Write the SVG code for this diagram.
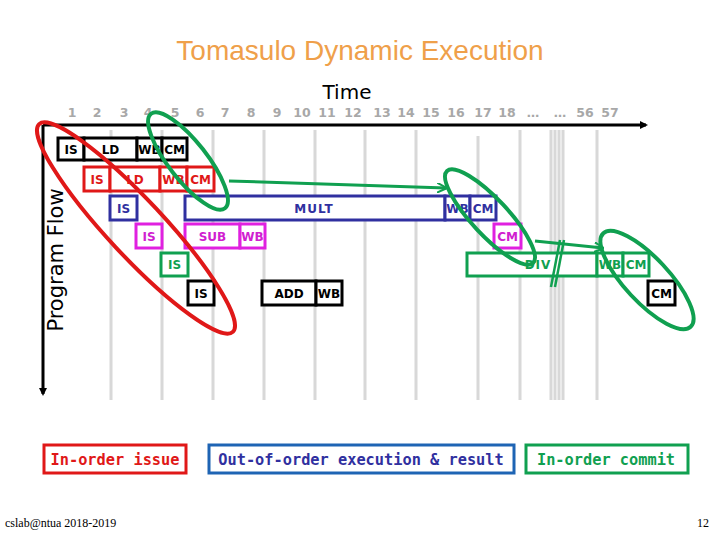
<svg xmlns="http://www.w3.org/2000/svg" width="720" height="540" viewBox="0 0 720 540">
<style>
.title{font-family:"Liberation Sans",Arial,sans-serif;font-size:28px;fill:#EFA04A}
.num{font-family:"DejaVu Sans",sans-serif;font-weight:bold;font-size:12.5px;fill:#A8A8A8;text-anchor:middle}
.axis{stroke:#000;stroke-width:3;fill:none}
.grid{stroke:#D8D8D8;stroke-width:3}
.cell{fill:#fff;stroke-width:3}
.t{font-family:"DejaVu Sans",sans-serif;font-weight:bold;font-size:12px;text-anchor:middle}
.k{stroke:#000}.kt{fill:#000}
.r{stroke:#E01818}.rt{fill:#E01818}
.b{stroke:#3030A0}.bt{fill:#3030A0}
.m{stroke:#E020E0}.mt{fill:#D020D0}
.g{stroke:#10A050}.gt{fill:#10A050}
.ell{fill:none;stroke-width:4}
.lbl{font-family:"DejaVu Sans Mono",monospace;font-weight:bold;font-size:15.3px;text-anchor:middle}
.foot{font-family:"Liberation Serif",serif;font-size:12px;fill:#000}
</style>
<defs>
<marker id="ahk" markerWidth="8" markerHeight="8" refX="6" refY="4" orient="auto" markerUnits="userSpaceOnUse"><path d="M0,0 L8,4 L0,8 z" fill="#000"/></marker>
<marker id="ahg" markerWidth="10" markerHeight="10" refX="9" refY="5" orient="auto" markerUnits="userSpaceOnUse"><path d="M0,0 L10,5 L0,10" fill="none" stroke="#10A050" stroke-width="2"/></marker>
</defs>
<rect width="720" height="540" fill="#fff"/>
<text class="title" x="360" y="60" text-anchor="middle">Tomasulo Dynamic Execution</text>
<text x="347" y="99" text-anchor="middle" font-family="DejaVu Sans,sans-serif" font-size="20" fill="#000">Time</text>
<g id="numbers">
<text class="num" x="72" y="117">1</text><text class="num" x="97" y="117">2</text><text class="num" x="124" y="117">3</text><text class="num" x="148" y="117">4</text><text class="num" x="175" y="117">5</text><text class="num" x="200" y="117">6</text><text class="num" x="225" y="117">7</text><text class="num" x="251" y="117">8</text><text class="num" x="277" y="117">9</text><text class="num" x="302" y="117">10</text><text class="num" x="327" y="117">11</text><text class="num" x="353" y="117">12</text><text class="num" x="382" y="117">13</text><text class="num" x="406" y="117">14</text><text class="num" x="431" y="117">15</text><text class="num" x="456" y="117">16</text><text class="num" x="483" y="117">17</text><text class="num" x="507" y="117">18</text><text class="num" x="533" y="117">…</text><text class="num" x="560" y="117">…</text><text class="num" x="585" y="117">56</text><text class="num" x="610" y="117">57</text>
</g>
<g id="grid">
<line class="grid" x1="111" y1="130" x2="111" y2="400"/>
<line class="grid" x1="162" y1="130" x2="162" y2="400"/>
<line class="grid" x1="213" y1="130" x2="213" y2="400"/>
<line class="grid" x1="264" y1="130" x2="264" y2="400"/>
<line class="grid" x1="315" y1="130" x2="315" y2="400"/>
<line class="grid" x1="365" y1="130" x2="365" y2="400"/>
<line class="grid" x1="416" y1="130" x2="416" y2="400"/>
<line class="grid" x1="478" y1="136" x2="478" y2="400"/>
<line class="grid" x1="520" y1="130" x2="520" y2="400"/>
<line class="grid" x1="551" y1="130" x2="551" y2="400"/>
<line class="grid" x1="555" y1="130" x2="555" y2="400"/>
<line class="grid" x1="559" y1="130" x2="559" y2="400"/>
<line class="grid" x1="563" y1="130" x2="563" y2="400"/>
<line class="grid" x1="597" y1="130" x2="597" y2="400"/>
</g>
<g id="axes">
<line class="axis" x1="43" y1="125" x2="646" y2="125" marker-end="url(#ahk)"/>
<line class="axis" x1="43" y1="125" x2="43" y2="394" marker-end="url(#ahk)"/>
<text transform="translate(63,260) rotate(-90)" text-anchor="middle" font-family="DejaVu Sans,sans-serif" font-size="21" fill="#000">Program Flow</text>
</g>
<g id="row1">
<rect class="cell k" x="58" y="138" width="26" height="22"/><text class="t kt" x="71" y="153.5">IS</text>
<rect class="cell k" x="84" y="138" width="53" height="22"/><text class="t kt" x="110.5" y="153.5">LD</text>
<rect class="cell k" x="137" y="138" width="25" height="22"/><text class="t kt" x="149.5" y="153.5">WB</text>
<rect class="cell k" x="162" y="138" width="25" height="22"/><text class="t kt" x="174.5" y="153.5">CM</text>
</g>
<g id="row2">
<rect class="cell r" x="84" y="167" width="26" height="24"/><text class="t rt" x="97" y="183.5">IS</text>
<rect class="cell r" x="110" y="167" width="50" height="24"/><text class="t rt" x="135" y="183.5">LD</text>
<rect class="cell r" x="160" y="167" width="27" height="24"/><text class="t rt" x="173.5" y="183.5">WB</text>
<rect class="cell r" x="187" y="167" width="27" height="24"/><text class="t rt" x="200.5" y="183.5">CM</text>
</g>
<g id="row3">
<rect class="cell b" x="110" y="196" width="27" height="24"/><text class="t bt" x="123.5" y="212.5">IS</text>
<rect class="cell b" x="185" y="196" width="260" height="24"/><text class="t bt" x="314" y="212.5" letter-spacing="1">MULT</text>
<rect class="cell b" x="445" y="196" width="25" height="24"/><text class="t bt" x="457.5" y="212.5">WB</text>
<rect class="cell b" x="470" y="196" width="26" height="24"/><text class="t bt" x="483" y="212.5">CM</text>
</g>
<g id="row4">
<rect class="cell m" x="136" y="224" width="26" height="24"/><text class="t mt" x="149" y="240.5">IS</text>
<rect class="cell m" x="185" y="224" width="55" height="24"/><text class="t mt" x="212.5" y="240.5">SUB</text>
<rect class="cell m" x="240" y="224" width="25" height="24"/><text class="t mt" x="252.5" y="240.5">WB</text>
<rect class="cell m" x="494" y="224" width="27" height="24"/><text class="t mt" x="507.5" y="240.5">CM</text>
</g>
<g id="row5">
<rect class="cell g" x="161" y="253" width="27" height="23"/><text class="t gt" x="174.5" y="269">IS</text>
<rect class="cell g" x="467" y="253" width="130" height="23"/><text class="t gt" x="538" y="269" letter-spacing="1">DIV</text>
<rect class="cell g" x="597" y="253" width="26" height="23"/><text class="t gt" x="610" y="269">WB</text>
<rect class="cell g" x="623" y="253" width="26" height="23"/><text class="t gt" x="636" y="269">CM</text>
</g>
<g id="row6">
<rect class="cell k" x="188" y="281" width="26" height="24"/><text class="t kt" x="201" y="297.5">IS</text>
<rect class="cell k" x="262" y="281" width="54" height="24"/><text class="t kt" x="289" y="297.5">ADD</text>
<rect class="cell k" x="316" y="281" width="26" height="24"/><text class="t kt" x="329" y="297.5">WB</text>
<rect class="cell k" x="648" y="281" width="27" height="24"/><text class="t kt" x="661.5" y="297.5">CM</text>
</g>
<g id="groups">
<ellipse class="ell r" cx="136" cy="228" rx="142" ry="28" transform="rotate(47 136 228)"/>
<ellipse class="ell g" cx="188" cy="161" rx="60" ry="19" transform="rotate(52 188 161)"/>
<ellipse class="ell g" cx="490" cy="217" rx="63" ry="18" transform="rotate(47 490 217)"/>
<ellipse class="ell g" cx="647" cy="280" rx="64" ry="22" transform="rotate(47 647 280)"/>
</g>
<g id="connectors">
<line x1="229" y1="181" x2="446" y2="188" stroke="#10A050" stroke-width="3" marker-end="url(#ahg)"/>
<line x1="535" y1="241" x2="603" y2="248" stroke="#10A050" stroke-width="3" marker-end="url(#ahg)"/>
<line x1="560" y1="240" x2="551" y2="287" stroke="#10A050" stroke-width="2.5"/>
<line x1="564" y1="240" x2="555" y2="287" stroke="#10A050" stroke-width="2.5"/>
</g>
<g id="legend-issue">
<rect x="44" y="445" width="142" height="28" fill="#fff" stroke="#E01818" stroke-width="3"/>
<text class="lbl rt" x="115" y="465">In-order issue</text>
</g>
<g id="legend-exec">
<rect x="209" y="445" width="305" height="28" fill="#fff" stroke="#1E64B4" stroke-width="3"/>
<text class="lbl bt" x="361" y="465">Out-of-order execution &amp; result</text>
</g>
<g id="legend-commit">
<rect x="526" y="445" width="162" height="28" fill="#fff" stroke="#10A050" stroke-width="3"/>
<text class="lbl gt" x="606" y="465">In-order commit</text>
</g>
<text class="foot" x="5" y="527">cslab@ntua 2018-2019</text>
<text class="foot" x="709" y="527" text-anchor="end">12</text>
</svg>
